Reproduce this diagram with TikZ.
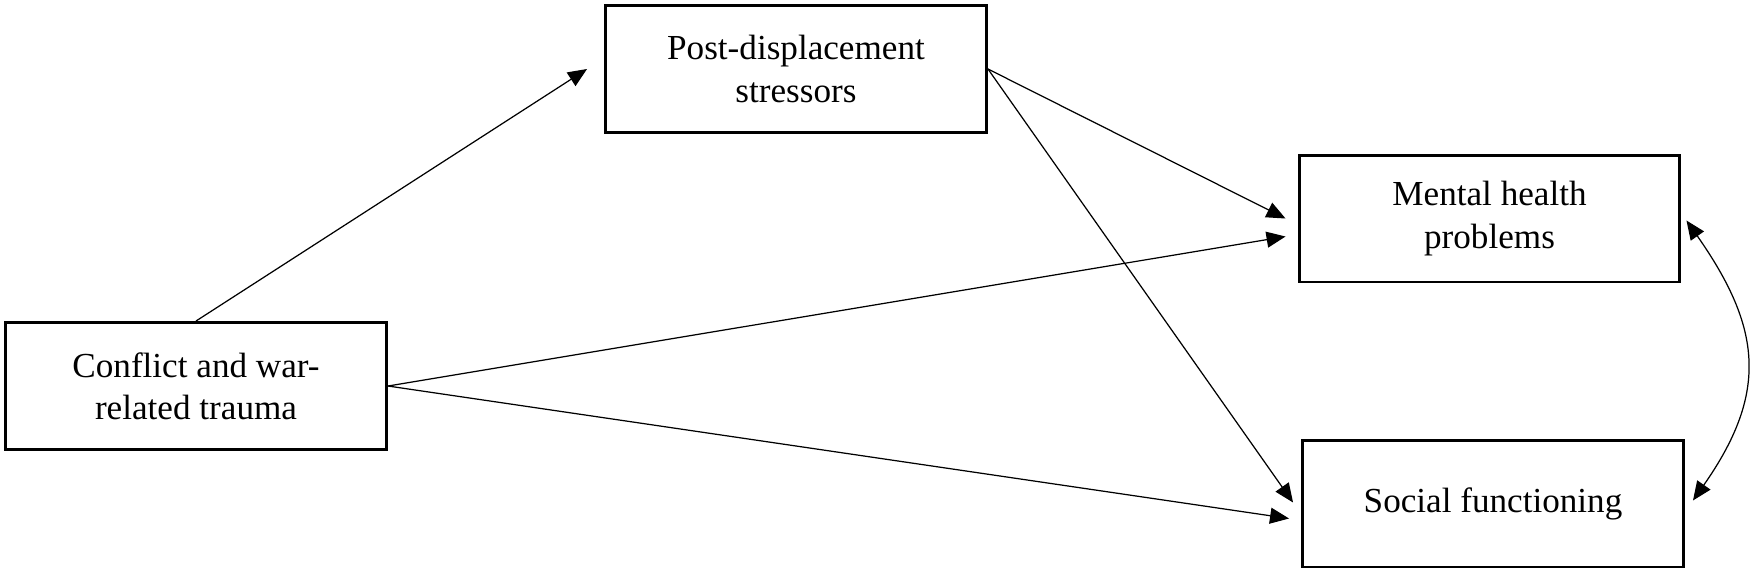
\documentclass[tikz,border=0pt]{standalone}
\usepackage{fontspec}
\setmainfont{Liberation Serif}
\usetikzlibrary{arrows.meta,calc}

\begin{document}
\begin{tikzpicture}[x=0.02cm,y=-0.02cm,>={Triangle[length=0.38cm,width=0.32cm]},var/.style={draw,line width=1.7pt,minimum width=7.62cm,minimum height=2.54cm,align=center,font=\fontsize{20}{24}\selectfont},eff/.style={->,line width=0.7pt},cov/.style={<->,line width=0.7pt}]
\useasboundingbox (0,0) rectangle (1750,575);
\node[var] (trauma) at (196,386) {Conflict and war-\\related trauma};
\node[var] (stress) at (796,69) {Post-displacement\\stressors};
\node[var] (mental) at (1489.5,218.5) {Mental health\\problems};
\node[var] (social) at (1493,503.5) {Social functioning};
\draw[eff] (trauma.north) -- ($(stress.west)+(-17,0)$);
\draw[eff] (stress.east) -- ($(mental.west)+(-12,0)$);
\draw[eff] (stress.east) -- ($(social.west)+(-8,-1)$);
\draw[eff] (trauma.east) -- ($(mental.west)+(-12,18)$);
\draw[eff] (trauma.east) -- ($(social.west)+(-12,15)$);
\draw[cov] ($(mental.east)+(5,2)$) to[out=-55,in=55,looseness=1.2] ($(social.east)+(8,-3)$);
\end{tikzpicture}
\end{document}
